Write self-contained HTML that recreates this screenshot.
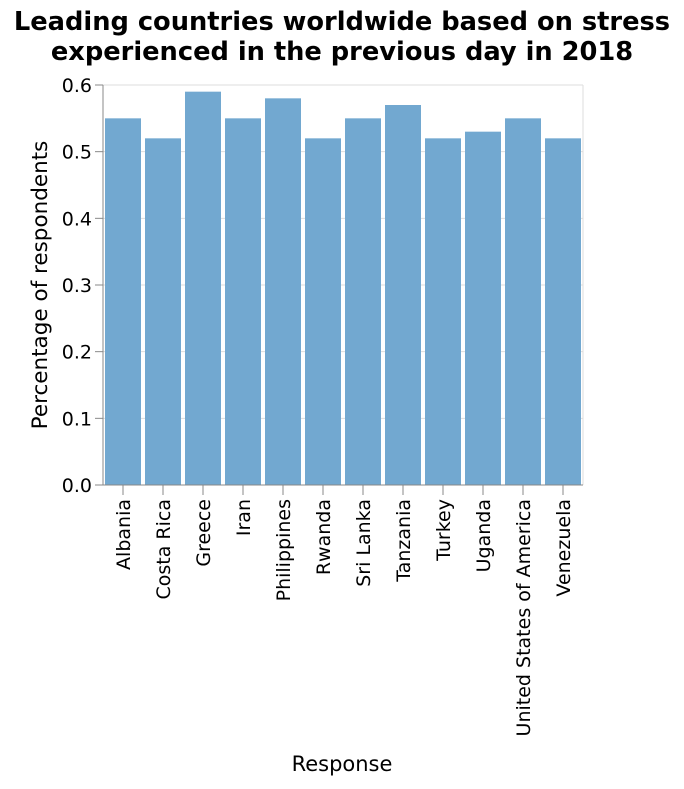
<!DOCTYPE html>
<html><head><meta charset="utf-8"><style>
body{margin:0;background:#fff;}
svg{font-family:"DejaVu Sans","Liberation Sans",sans-serif;}
</style></head><body>
<svg id="chart" width="684" height="784">
<text x="342" y="30" text-anchor="middle" font-size="25.7" font-weight="bold" fill="#000">Leading countries worldwide based on stress</text>
<text x="342" y="60" text-anchor="middle" font-size="25.7" font-weight="bold" fill="#000">experienced in the previous day in 2018</text>
<g id="grid"></g><g id="bars"></g><g id="axes"></g>
<text x="342" y="771" text-anchor="middle" font-size="21" fill="#000">Response</text>
<text transform="translate(47,285) rotate(-90)" text-anchor="middle" font-size="21.5" fill="#000">Percentage of respondents</text>
</svg>
<script>
const categories=["Albania","Costa Rica","Greece","Iran","Philippines","Rwanda","Sri Lanka","Tanzania","Turkey","Uganda","United States of America","Venezuela"];
const values=[0.55,0.52,0.59,0.55,0.58,0.52,0.55,0.57,0.52,0.53,0.55,0.52];
const yTicks=[0,0.1,0.2,0.3,0.4,0.5,0.6];
const tickLabels=["0.0","0.1","0.2","0.3","0.4","0.5","0.6"];
const NS="http://www.w3.org/2000/svg";
const X0=103,X1=583,Y0=485,Y1=85,yMax=0.6;
const y=v=>Y0-(v/yMax)*(Y0-Y1);
const band=(X1-X0)/categories.length;
const x=i=>X0+i*band;
function mk(t,a,p){const e=document.createElementNS(NS,t);for(const k in a)e.setAttribute(k,a[k]);p.appendChild(e);return e;}
const grid=document.getElementById('grid'),bars=document.getElementById('bars'),axes=document.getElementById('axes');
yTicks.forEach((v,i)=>{
 const g=mk('line',{x1:X0,x2:X1,y1:y(v),y2:y(v),stroke:'#ddd','stroke-width':1},grid);
 
 
 const t=mk('line',{x1:X0-8,x2:X0,y1:y(v),y2:y(v),stroke:'#888'},axes);
 
 
 const l=mk('text',{x:X0-11,y:y(v)+7,'text-anchor':'end','font-size':19,fill:'#000'},axes);
 l.textContent=tickLabels[i];
 
 
});
const vg=mk('line',{x1:X1,x2:X1,y1:Y1,y2:Y0,stroke:'#ddd'},grid);


categories.forEach((c,i)=>{
 const pad=band*0.05;
 const r=mk('rect',{x:x(i)+pad,y:y(values[i]),width:band-2*pad,height:Y0-y(values[i]),fill:'#72a8d0'},bars);
 
 
 const cx=x(i)+band/2;
 const t=mk('line',{x1:cx,x2:cx,y1:Y0,y2:Y0+10,stroke:'#888'},axes);
 
 
 const l=mk('text',{transform:`translate(${cx+7},${Y0+14}) rotate(-90)`,'text-anchor':'end','font-size':19,fill:'#000'},axes);
 l.textContent=c;
 
 
});
const ya=mk('line',{x1:X0,x2:X0,y1:Y1,y2:Y0,stroke:'#888'},axes);


const xa=mk('line',{x1:X0,x2:X1,y1:Y0,y2:Y0,stroke:'#888'},axes);


</script>
</body></html>
